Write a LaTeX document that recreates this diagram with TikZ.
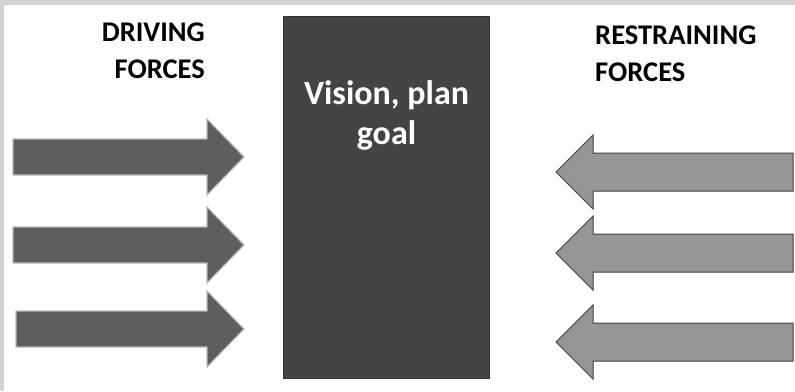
\documentclass[tikz,border=0pt]{standalone}
\usepackage{fontspec}
\setmainfont{Carlito}
\usepackage{tikz}
\usetikzlibrary{positioning,calc}

\definecolor{framegray}{HTML}{D2D3D5}
\definecolor{goalgray}{HTML}{444444}
\definecolor{drivegray}{HTML}{5E5E5E}
\definecolor{restraingray}{HTML}{969696}

\begin{document}
\begin{tikzpicture}[
    x=1pt, y=-1pt,
    heading/.style={font=\bfseries\fontsize{28.5}{37}\selectfont, text=black, inner sep=0pt},
    goalbox/.style={draw=black!80, fill=goalgray, line width=1pt},
    goaltext/.style={font=\bfseries\fontsize{34}{40}\selectfont, text=white, align=center, inner sep=0pt},
    drivearrow/.style={draw=gray!55, fill=drivegray, line width=1.2pt, line join=miter},
    restrainarrow/.style={draw=black!75, fill=restraingray, line width=1pt, line join=miter}
  ]
    \useasboundingbox (0,0) rectangle (795,391);
    % frame strips
    \fill[framegray] (0,0) rectangle (795,5);
    \fill[framegray] (0,0) rectangle (4,391);

    % goal box
    \node[goalbox, minimum width=206pt, minimum height=362pt, anchor=north west] (goal) at (283,16) {};
    \node[goaltext, below=64pt of goal.north] (goallbl) {Vision, plan\\goal};

    % headings
    \node[heading, align=right, anchor=north east] (driving) at (205,23) {DRIVING\\FORCES};
    \node[heading, align=left, anchor=north west] (restraining) at (595,26) {RESTRAINING\\FORCES};

    % driving forces (left arrows)
    \foreach \yc/\xs in {157/13, 245/13, 329/16} {
      \draw[drivearrow] (\xs,\yc-18) -- (207,\yc-18) -- (207,\yc-38) -- (244,\yc)
        -- (207,\yc+38) -- (207,\yc+18) -- (\xs,\yc+18) -- cycle;
    }

    % restraining forces (right arrows)
    \foreach \yc in {172, 253, 342} {
      \draw[restrainarrow] (793,\yc-19) -- (593,\yc-19) -- (593,\yc-37) -- (556,\yc)
        -- (593,\yc+37) -- (593,\yc+19) -- (793,\yc+19) -- cycle;
    }
  \end{tikzpicture}
\end{document}
